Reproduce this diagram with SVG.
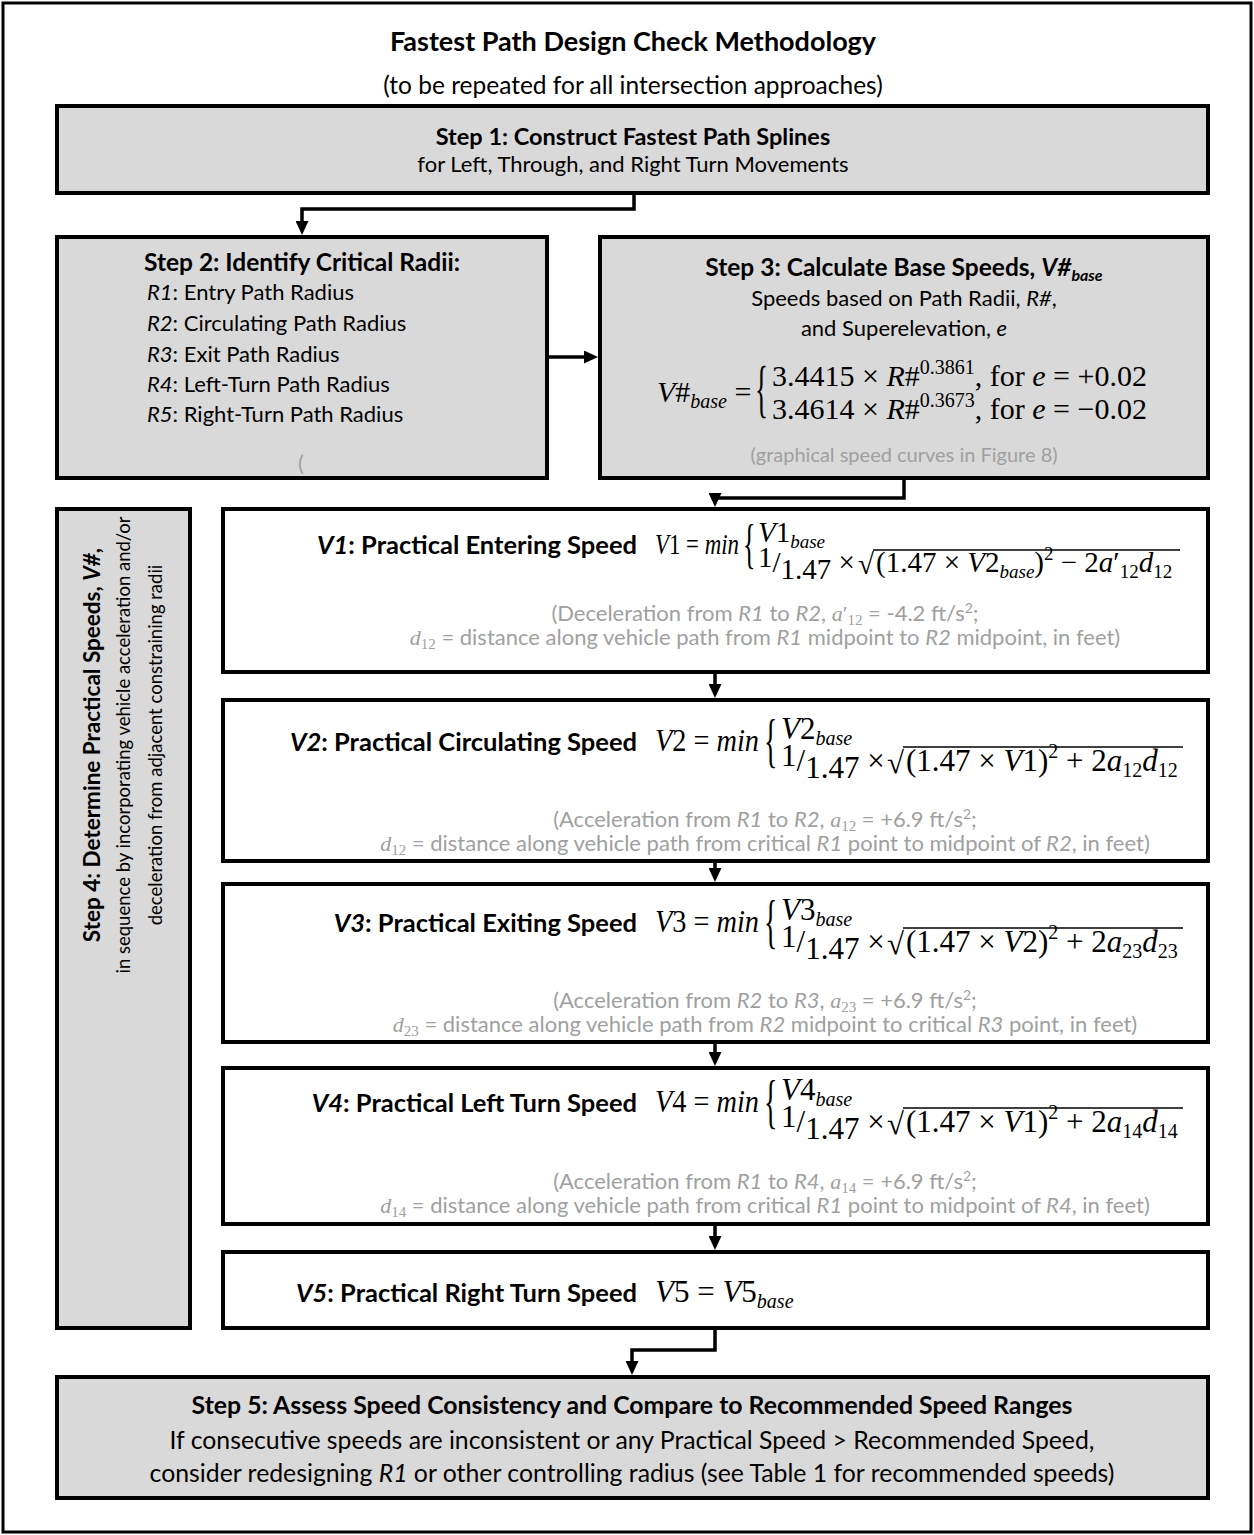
<svg xmlns="http://www.w3.org/2000/svg" width="1254" height="1535" viewBox="0 0 1254 1535">
<defs>
<style>
.s{font-family:Lato,"Liberation Sans",sans-serif;fill:#000}
.b{font-weight:bold}
.i{font-style:italic}
.m{font-family:"Liberation Serif","DejaVu Serif",serif}
.g{fill:#a0a0a0}
.box{fill:#d9d9d9;stroke:#000;stroke-width:4}
.wbox{fill:#fff;stroke:#000;stroke-width:4}
.c{fill:none;stroke:#000;stroke-width:3.5;marker-end:url(#ah)}
.vb{stroke:#000;stroke-width:1.5}
.vh{font-size:25.5px;font-weight:bold}
.gn{font-size:22px}
</style>
<marker id="ah" markerUnits="userSpaceOnUse" markerWidth="14" markerHeight="13" viewBox="0 0 14 13" refX="8" refY="6.5" orient="auto"><path d="M0,0 L14,6.5 L0,13 z" fill="#000"/></marker>
</defs>
<rect width="1254" height="1535" fill="#fff"/>
<rect x="3" y="3" width="1248" height="1529" fill="none" stroke="#000" stroke-width="3"/>

<g id="title">
<text class="s b" x="633" y="51" font-size="27" text-anchor="middle">Fastest Path Design Check Methodology</text>
<text class="s" x="633" y="94" font-size="24.5" text-anchor="middle">(to be repeated for all intersection approaches)</text>
</g>

<g id="step1">
<rect class="box" x="57" y="106" width="1151" height="87"/>
<text class="s b" x="633" y="145" font-size="23.5" text-anchor="middle">Step 1: Construct Fastest Path Splines</text>
<text class="s" x="633" y="172" font-size="22" text-anchor="middle">for Left, Through, and Right Turn Movements</text>
</g>

<g id="step2">
<rect class="box" x="57" y="237" width="490" height="241"/>
<text class="s b" x="302" y="271" font-size="24.5" text-anchor="middle">Step 2: Identify Critical Radii:</text>
<text class="s" x="147" y="300" font-size="22"><tspan class="i">R1</tspan>: Entry Path Radius</text>
<text class="s" x="147" y="331" font-size="22"><tspan class="i">R2</tspan>: Circulating Path Radius</text>
<text class="s" x="147" y="362" font-size="22"><tspan class="i">R3</tspan>: Exit Path Radius</text>
<text class="s" x="147" y="392" font-size="22"><tspan class="i">R4</tspan>: Left-Turn Path Radius</text>
<text class="s" x="147" y="422" font-size="22"><tspan class="i">R5</tspan>: Right-Turn Path Radius</text>
<text class="s g" x="301" y="471" font-size="22" text-anchor="middle">(</text>
</g>

<g id="step3">
<rect class="box" x="600" y="237" width="608" height="241"/>
<text class="s b" x="904" y="276" font-size="24.5" text-anchor="middle">Step 3: Calculate Base Speeds, <tspan class="i">V#</tspan><tspan class="i" font-size="16" dy="5">base</tspan></text>
<text class="s" x="904" y="306" font-size="22" text-anchor="middle">Speeds based on Path Radii, <tspan class="i">R#</tspan>,</text>
<text class="s" x="904" y="336" font-size="22" text-anchor="middle">and Superelevation, <tspan class="i">e</tspan></text>
<text class="m" x="657" y="402" font-size="30"><tspan class="i">V</tspan>#<tspan class="i" font-size="20" dy="6">base</tspan><tspan dy="-6"> =</tspan></text>
<text class="m" font-size="30" transform="translate(755,410) scale(0.9,2.1)">{</text>
<text class="m" x="772" y="386" font-size="30">3.4415 × <tspan class="i">R</tspan>#<tspan font-size="20" dy="-12">0.3861</tspan><tspan dy="12">, for </tspan><tspan class="i">e</tspan> = +0.02</text>
<text class="m" x="772" y="419" font-size="30">3.4614 × <tspan class="i">R</tspan>#<tspan font-size="20" dy="-12">0.3673</tspan><tspan dy="12">, for </tspan><tspan class="i">e</tspan> = −0.02</text>
<text class="s g" x="904" y="462" font-size="20" text-anchor="middle">(graphical speed curves in Figure 8)</text>
</g>

<g id="step4">
<rect class="box" x="57" y="509" width="133" height="819"/>
<text class="s b" font-size="22.5" text-anchor="middle" transform="translate(100,745) rotate(-90)">Step 4: Determine Practical Speeds, <tspan class="i">V#</tspan>,</text>
<text class="s" font-size="18.5" text-anchor="middle" transform="translate(130,745) rotate(-90)">in sequence by incorporating vehicle acceleration and/or</text>
<text class="s" font-size="18.5" text-anchor="middle" transform="translate(162,745) rotate(-90)">deceleration from adjacent constraining radii</text>
</g>

<g id="v1">
<rect class="wbox" x="223" y="509" width="985" height="163"/>
<text class="s vh" x="637" y="554" text-anchor="end"><tspan class="i">V1</tspan>: Practical Entering Speed</text>
<text class="m" x="655" y="554" font-size="29" textLength="84" lengthAdjust="spacingAndGlyphs"><tspan class="i">V</tspan>1 = <tspan class="i">min</tspan></text>
<text class="m" font-size="29" transform="translate(743,562) scale(0.9,1.9)">{</text>
<text class="m" x="758" y="542" font-size="29"><tspan class="i">V</tspan>1<tspan class="i" font-size="19" dy="6">base</tspan></text>
<text class="m" x="758" y="572" font-size="29"><tspan dy="-5">1</tspan><tspan dy="5">/</tspan><tspan dy="7">1.47</tspan><tspan dy="-7"> ×</tspan></text>
<text class="m" x="858" y="574" font-size="29">√</text>
<line class="vb" x1="873" y1="550" x2="1180" y2="550"/>
<text class="m" x="876" y="572" font-size="29">(1.47 × <tspan class="i">V</tspan>2<tspan class="i" font-size="19" dy="6">base</tspan><tspan dy="-6">)</tspan><tspan font-size="19" dy="-12">2</tspan><tspan dy="12"> − 2</tspan><tspan class="i">a</tspan>′<tspan font-size="19" dy="6">12</tspan><tspan class="i" dy="-6">d</tspan><tspan font-size="19" dy="6">12</tspan></text>
<text class="s g gn" x="765" y="621" text-anchor="middle">(Deceleration from <tspan class="i">R1</tspan> to <tspan class="i">R2</tspan>, <tspan class="m i">a</tspan><tspan class="m">′</tspan><tspan class="m" font-size="15" dy="4">12</tspan><tspan dy="-4"> = -4.2 ft/s</tspan><tspan font-size="14" dy="-8">2</tspan><tspan dy="8">;</tspan></text>
<text class="s g gn" x="765" y="645" text-anchor="middle"><tspan class="m i">d</tspan><tspan class="m" font-size="15" dy="4">12</tspan><tspan dy="-4"> = distance along vehicle path from </tspan><tspan class="i">R1</tspan> midpoint to <tspan class="i">R2</tspan> midpoint, in feet)</text>
</g>

<g id="v2">
<rect class="wbox" x="223" y="700" width="985" height="161"/>
<text class="s vh" x="637" y="751" text-anchor="end"><tspan class="i">V2</tspan>: Practical Circulating Speed</text>
<text class="m" x="655" y="751" font-size="31" textLength="104" lengthAdjust="spacingAndGlyphs"><tspan class="i">V</tspan>2 = <tspan class="i">min</tspan></text>
<text class="m" font-size="31" transform="translate(764,760) scale(0.9,1.9)">{</text>
<text class="m" x="781" y="739" font-size="31"><tspan class="i">V</tspan>2<tspan class="i" font-size="20" dy="6">base</tspan></text>
<text class="m" x="781" y="771" font-size="31"><tspan dy="-5">1</tspan><tspan dy="5">/</tspan><tspan dy="7">1.47</tspan><tspan dy="-7"> ×</tspan></text>
<text class="m" x="887" y="773" font-size="31">√</text>
<line class="vb" x1="903" y1="747" x2="1183" y2="747"/>
<text class="m" x="906" y="771" font-size="31">(1.47 × <tspan class="i">V</tspan>1)<tspan font-size="20" dy="-13">2</tspan><tspan dy="13"> + 2</tspan><tspan class="i">a</tspan><tspan font-size="20" dy="6">12</tspan><tspan class="i" dy="-6">d</tspan><tspan font-size="20" dy="6">12</tspan></text>
<text class="s g gn" x="765" y="827" text-anchor="middle">(Acceleration from <tspan class="i">R1</tspan> to <tspan class="i">R2</tspan>, <tspan class="m i">a</tspan><tspan class="m" font-size="15" dy="4">12</tspan><tspan dy="-4"> = +6.9 ft/s</tspan><tspan font-size="14" dy="-8">2</tspan><tspan dy="8">;</tspan></text>
<text class="s g gn" x="765" y="851" text-anchor="middle"><tspan class="m i">d</tspan><tspan class="m" font-size="15" dy="4">12</tspan><tspan dy="-4"> = distance along vehicle path from critical </tspan><tspan class="i">R1</tspan> point to midpoint of <tspan class="i">R2</tspan>, in feet)</text>
</g>

<g id="v3">
<rect class="wbox" x="223" y="884" width="985" height="158"/>
<text class="s vh" x="637" y="932" text-anchor="end"><tspan class="i">V3</tspan>: Practical Exiting Speed</text>
<text class="m" x="655" y="932" font-size="31" textLength="104" lengthAdjust="spacingAndGlyphs"><tspan class="i">V</tspan>3 = <tspan class="i">min</tspan></text>
<text class="m" font-size="31" transform="translate(764,941) scale(0.9,1.9)">{</text>
<text class="m" x="781" y="920" font-size="31"><tspan class="i">V</tspan>3<tspan class="i" font-size="20" dy="6">base</tspan></text>
<text class="m" x="781" y="952" font-size="31"><tspan dy="-5">1</tspan><tspan dy="5">/</tspan><tspan dy="7">1.47</tspan><tspan dy="-7"> ×</tspan></text>
<text class="m" x="887" y="954" font-size="31">√</text>
<line class="vb" x1="903" y1="928" x2="1183" y2="928"/>
<text class="m" x="906" y="952" font-size="31">(1.47 × <tspan class="i">V</tspan>2)<tspan font-size="20" dy="-13">2</tspan><tspan dy="13"> + 2</tspan><tspan class="i">a</tspan><tspan font-size="20" dy="6">23</tspan><tspan class="i" dy="-6">d</tspan><tspan font-size="20" dy="6">23</tspan></text>
<text class="s g gn" x="765" y="1008" text-anchor="middle">(Acceleration from <tspan class="i">R2</tspan> to <tspan class="i">R3</tspan>, <tspan class="m i">a</tspan><tspan class="m" font-size="15" dy="4">23</tspan><tspan dy="-4"> = +6.9 ft/s</tspan><tspan font-size="14" dy="-8">2</tspan><tspan dy="8">;</tspan></text>
<text class="s g gn" x="765" y="1032" text-anchor="middle"><tspan class="m i">d</tspan><tspan class="m" font-size="15" dy="4">23</tspan><tspan dy="-4"> = distance along vehicle path from </tspan><tspan class="i">R2</tspan> midpoint to critical <tspan class="i">R3</tspan> point, in feet)</text>
</g>

<g id="v4">
<rect class="wbox" x="223" y="1068" width="985" height="156"/>
<text class="s vh" x="637" y="1112" text-anchor="end"><tspan class="i">V4</tspan>: Practical Left Turn Speed</text>
<text class="m" x="655" y="1112" font-size="31" textLength="104" lengthAdjust="spacingAndGlyphs"><tspan class="i">V</tspan>4 = <tspan class="i">min</tspan></text>
<text class="m" font-size="31" transform="translate(764,1121) scale(0.9,1.9)">{</text>
<text class="m" x="781" y="1100" font-size="31"><tspan class="i">V</tspan>4<tspan class="i" font-size="20" dy="6">base</tspan></text>
<text class="m" x="781" y="1132" font-size="31"><tspan dy="-5">1</tspan><tspan dy="5">/</tspan><tspan dy="7">1.47</tspan><tspan dy="-7"> ×</tspan></text>
<text class="m" x="887" y="1134" font-size="31">√</text>
<line class="vb" x1="903" y1="1108" x2="1183" y2="1108"/>
<text class="m" x="906" y="1132" font-size="31">(1.47 × <tspan class="i">V</tspan>1)<tspan font-size="20" dy="-13">2</tspan><tspan dy="13"> + 2</tspan><tspan class="i">a</tspan><tspan font-size="20" dy="6">14</tspan><tspan class="i" dy="-6">d</tspan><tspan font-size="20" dy="6">14</tspan></text>
<text class="s g gn" x="765" y="1189" text-anchor="middle">(Acceleration from <tspan class="i">R1</tspan> to <tspan class="i">R4</tspan>, <tspan class="m i">a</tspan><tspan class="m" font-size="15" dy="4">14</tspan><tspan dy="-4"> = +6.9 ft/s</tspan><tspan font-size="14" dy="-8">2</tspan><tspan dy="8">;</tspan></text>
<text class="s g gn" x="765" y="1213" text-anchor="middle"><tspan class="m i">d</tspan><tspan class="m" font-size="15" dy="4">14</tspan><tspan dy="-4"> = distance along vehicle path from critical </tspan><tspan class="i">R1</tspan> point to midpoint of <tspan class="i">R4</tspan>, in feet)</text>
</g>

<g id="v5">
<rect class="wbox" x="223" y="1252" width="985" height="76"/>
<text class="s vh" x="637" y="1302" text-anchor="end"><tspan class="i">V5</tspan>: Practical Right Turn Speed</text>
<text class="m" x="655" y="1302" font-size="31"><tspan class="i">V</tspan>5 = <tspan class="i">V</tspan>5<tspan class="i" font-size="20" dy="6">base</tspan></text>
</g>

<g id="step5">
<rect class="box" x="57" y="1377" width="1151" height="121"/>
<text class="s b" x="632" y="1414" font-size="24.8" text-anchor="middle">Step 5: Assess Speed Consistency and Compare to Recommended Speed Ranges</text>
<text class="s" x="632" y="1449" font-size="24.8" text-anchor="middle">If consecutive speeds are inconsistent or any Practical Speed &gt; Recommended Speed,</text>
<text class="s" x="632" y="1482" font-size="24.8" text-anchor="middle">consider redesigning <tspan class="i">R1</tspan> or other controlling radius (see Table 1 for recommended speeds)</text>
</g>

<g id="connectors">
<path class="c" d="M634,195 V209 H302 V229"/>
<path class="c" d="M549,357 H592"/>
<path class="c" d="M904,480 V498 H715 V501"/>
<path class="c" d="M715,674 V692"/>
<path class="c" d="M715,863 V876"/>
<path class="c" d="M715,1044 V1060"/>
<path class="c" d="M715,1226 V1244"/>
<path class="c" d="M715,1330 V1350 H632 V1369"/>
</g>
</svg>
